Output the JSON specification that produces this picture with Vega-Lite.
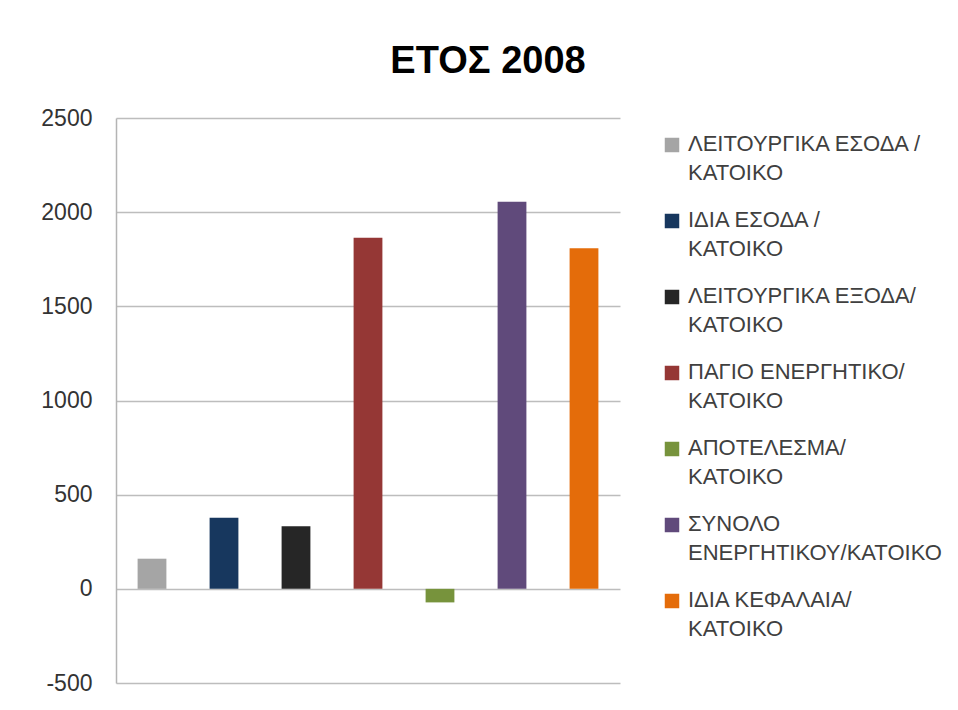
{
  "$schema": "https://vega.github.io/schema/vega-lite/v6.json",
  "width": 504,
  "height": 565,
  "autosize": {"type": "none"},
  "padding": {"left": 116, "top": 118, "right": 338, "bottom": 27},
  "background": "white",
  "title": {
    "text": "ΕΤΟΣ 2008",
    "font": "Liberation Sans",
    "fontSize": 38,
    "fontWeight": "bold",
    "color": "#000000",
    "anchor": "middle",
    "dx": 120,
    "offset": 26
  },
  "data": {
    "values": [
      {"k": 1, "series": "ΛΕΙΤΟΥΡΓΙΚΑ ΕΣΟΔΑ /\nΚΑΤΟΙΚΟ", "value": 160},
      {"k": 2, "series": "ΙΔΙΑ ΕΣΟΔΑ /\nΚΑΤΟΙΚΟ", "value": 378},
      {"k": 3, "series": "ΛΕΙΤΟΥΡΓΙΚΑ ΕΞΟΔΑ/\nΚΑΤΟΙΚΟ", "value": 332},
      {"k": 4, "series": "ΠΑΓΙΟ ΕΝΕΡΓΗΤΙΚΟ/\nΚΑΤΟΙΚΟ", "value": 1864},
      {"k": 5, "series": "ΑΠΟΤΕΛΕΣΜΑ/\nΚΑΤΟΙΚΟ", "value": -72},
      {"k": 6, "series": "ΣΥΝΟΛΟ\nΕΝΕΡΓΗΤΙΚΟΥ/ΚΑΤΟΙΚΟ", "value": 2055},
      {"k": 7, "series": "ΙΔΙΑ ΚΕΦΑΛΑΙΑ/\nΚΑΤΟΙΚΟ", "value": 1808}
    ]
  },
  "mark": {"type": "bar"},
  "encoding": {
    "x": {
      "field": "series",
      "type": "nominal",
      "sort": {"field": "k"},
      "scale": {"paddingInner": 0.6, "paddingOuter": 0.3},
      "axis": null
    },
    "y": {
      "field": "value",
      "type": "quantitative",
      "scale": {"domain": [-500, 2500], "nice": false, "zero": false},
      "axis": {
        "values": [-500, 0, 500, 1000, 1500, 2000, 2500],
        "labelExpr": "'' + datum.value",
        "title": null,
        "ticks": false,
        "labelPadding": 24,
        "labelFont": "Liberation Sans",
        "labelFontSize": 23,
        "labelColor": "#333333",
        "domainColor": "#b4b4b4",
        "domainWidth": 1.5,
        "gridColor": "#bdbdbd",
        "gridWidth": 1.5
      }
    },
    "color": {
      "field": "series",
      "type": "nominal",
      "sort": {"field": "k"},
      "scale": {
        "range": ["#a5a5a5", "#17375e", "#262626", "#953735", "#77933c", "#604a7b", "#e46c0a"]
      },
      "legend": {
        "title": null,
        "orient": "none",
        "legendX": 545,
        "legendY": 16,
        "symbolType": "square",
        "symbolSize": 210,
        "symbolStrokeWidth": 0,
        "labelFont": "Liberation Sans",
        "labelFontSize": 22,
        "labelColor": "#404040",
        "labelOffset": 5,
        "labelLimit": 400,
        "rowPadding": 25,
        "labelExpr": "split(datum.label, '\\n')",
        "labelBaseline": "top",
        "encode": {
          "labels": {
            "update": {
              "lineHeight": {"value": 29},
              "dy": {"value": -11}
            }
          }
        }
      }
    }
  },
  "config": {
    "view": {"stroke": null}
  }
}
